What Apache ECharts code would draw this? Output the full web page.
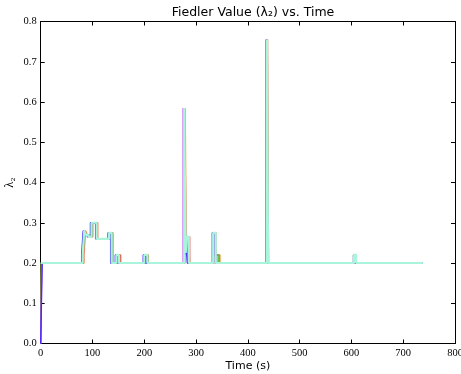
<!DOCTYPE html>
<html>
<head>
<meta charset="utf-8">
<script src="https://cdn.jsdelivr.net/npm/echarts@6/dist/echarts.min.js"></script>
<style>html,body{margin:0;padding:0;background:#fff}#c{width:461px;height:374px}</style>
</head>
<body>
<div id="c"></div>
<script>
const xTicks = [0, 100, 200, 300, 400, 500, 600, 700, 800];
const yTicks = [0.0, 0.1, 0.2, 0.3, 0.4, 0.5, 0.6, 0.7, 0.8];

const blueT   = [0, 3, 79, 82, 85, 90, 96, 106, 130, 135, 144, 149, 198, 203, 276, 278, 280, 283, 332, 337, 436, 438, 604, 607, 738];
const blueV   = [0, 0.2, 0.22, 0.28, 0.27, 0.265, 0.3, 0.26, 0.275, 0.2, 0.22, 0.2, 0.22, 0.2, 0.585, 0.22, 0.265, 0.2, 0.275, 0.2, 0.755, 0.2, 0.22, 0.2, 0.2];

const purpleT = [0, 2, 80, 83, 86, 91, 97, 107, 131, 136, 145, 150, 199, 205, 275, 278, 281, 284, 331, 335, 340, 435, 437, 605, 609, 738];
const purpleV = [0, 0.2, 0.22, 0.28, 0.27, 0.265, 0.3, 0.26, 0.275, 0.2, 0.22, 0.2, 0.22, 0.2, 0.585, 0.225, 0.265, 0.2, 0.275, 0.22, 0.2, 0.755, 0.2, 0.22, 0.2, 0.2];

const greenT  = [0, 1, 82, 85, 88, 93, 99, 109, 133, 138, 147, 152, 201, 207, 277, 280, 283, 286, 333, 337, 343, 437, 439, 604, 608, 738];
const greenV  = [0, 0.2, 0.22, 0.28, 0.27, 0.265, 0.3, 0.26, 0.275, 0.2, 0.22, 0.2, 0.22, 0.2, 0.585, 0.225, 0.265, 0.2, 0.275, 0.22, 0.2, 0.755, 0.2, 0.22, 0.2, 0.2];

const redT    = [0, 1, 83, 86, 89, 94, 100, 110, 134, 139, 148, 154, 202, 207, 278, 281, 284, 288, 334, 338, 345, 438, 440, 606, 609, 738];
const redV    = [0, 0.2, 0.22, 0.28, 0.27, 0.265, 0.3, 0.26, 0.275, 0.2, 0.22, 0.2, 0.22, 0.2, 0.585, 0.225, 0.265, 0.2, 0.275, 0.22, 0.2, 0.755, 0.2, 0.22, 0.2, 0.2];

const orangeT = [0, 2, 84, 87, 90, 95, 101, 110, 135, 140, 149, 155, 203, 208, 279, 282, 285, 288, 335, 339, 347, 438, 440, 607, 610, 738];
const orangeV = [0, 0.2, 0.22, 0.28, 0.27, 0.265, 0.3, 0.26, 0.275, 0.2, 0.22, 0.2, 0.22, 0.2, 0.585, 0.225, 0.265, 0.2, 0.275, 0.22, 0.2, 0.755, 0.2, 0.22, 0.2, 0.2];

const aquaT   = [0, 81, 84, 87, 92, 98, 108, 132, 137, 146, 151, 200, 206, 277, 280, 282, 286, 333, 338, 437, 439, 605, 609, 738];
const aquaV   = [0.2, 0.22, 0.28, 0.27, 0.265, 0.3, 0.26, 0.275, 0.2, 0.22, 0.2, 0.22, 0.2, 0.585, 0.225, 0.265, 0.2, 0.275, 0.2, 0.755, 0.2, 0.22, 0.2, 0.2];

const seriesDefs = [
  {name: 'run5', t: orangeT, v: orangeV, color: '#f0b878', w: 1.3, o: 0.9},
  {name: 'run4', t: redT,    v: redV,    color: '#e85a5a', w: 1.3, o: 0.85},
  {name: 'run3', t: greenT,  v: greenV,  color: '#5cbf3c', w: 1.3, o: 0.9},
  {name: 'run2', t: purpleT, v: purpleV, color: '#c04ef0', w: 1.3, o: 1},
  {name: 'run1', t: blueT,   v: blueV,   color: '#4426ff', w: 1.3, o: 1},
  {name: 'run6', t: aquaT,   v: aquaV,   color: '#a8f5dc', w: 2.2, o: 1}
];

const serifFont = '"Liberation Serif", "DejaVu Serif", serif';
const sansFont = '"DejaVu Sans", sans-serif';
const L = 40.7, R = 6, T = 21.5, B = 30.5;

const chart = echarts.init(document.getElementById('c'), null, {renderer: 'canvas'});
chart.setOption({
  animation: false,
  backgroundColor: '#fff',
  title: {
    text: 'Fiedler Value (λ₂) vs. Time',
    left: 248, top: 1, textAlign: 'center',
    textStyle: {fontFamily: sansFont, fontSize: 12.5, fontWeight: 'normal', color: '#000'}
  },
  grid: {left: L, right: R, top: T, bottom: B, containLabel: false, outerBoundsMode: 'none'},
  xAxis: [
    {
      type: 'value', min: 0, max: 800, interval: 100, position: 'bottom',
      name: 'Time (s)', nameLocation: 'middle', nameGap: 17, nameMoveOverlap: false,
      nameTextStyle: {fontFamily: sansFont, fontSize: 11, color: '#000'},
      axisLine: {show: true, onZero: false, lineStyle: {color: '#000', width: 1}},
      axisTick: {show: true, inside: true, length: 4, lineStyle: {color: '#000'}},
      axisLabel: {margin: 4, fontFamily: serifFont, fontSize: 10.5, color: '#000',
        formatter: v => xTicks.includes(v) ? String(v) : ''},
      splitLine: {show: false}
    },
    {
      type: 'value', min: 0, max: 800, interval: 100, position: 'top',
      axisLine: {show: true, onZero: false, lineStyle: {color: '#000', width: 1}},
      axisTick: {show: true, inside: true, length: 4, lineStyle: {color: '#000'}},
      axisLabel: {show: false}, splitLine: {show: false}
    }
  ],
  yAxis: [
    {
      type: 'value', min: 0, max: 0.8, interval: 0.1, position: 'left',
      name: 'λ₂', nameLocation: 'middle', nameGap: 24, nameRotate: 90, nameMoveOverlap: false,
      nameTextStyle: {fontFamily: serifFont, fontSize: 12.5, color: '#000'},
      axisLine: {show: true, onZero: false, lineStyle: {color: '#000', width: 1}},
      axisTick: {show: true, inside: true, length: 4, lineStyle: {color: '#000'}},
      axisLabel: {margin: 4, fontFamily: serifFont, fontSize: 10.5, color: '#000',
        formatter: v => yTicks.some(t => Math.abs(t - v) < 1e-9) ? v.toFixed(1) : ''},
      splitLine: {show: false}
    },
    {
      type: 'value', min: 0, max: 0.8, interval: 0.1, position: 'right',
      axisLine: {show: true, onZero: false, lineStyle: {color: '#000', width: 1}},
      axisTick: {show: true, inside: true, length: 4, lineStyle: {color: '#000'}},
      axisLabel: {show: false}, splitLine: {show: false}
    }
  ],
  series: seriesDefs.map((s, k) => ({
    name: s.name, type: 'line', step: 'end', showSymbol: false, symbol: 'none',
    xAxisIndex: 0, yAxisIndex: 0, z: 2 + k,
    data: s.t.map((t, i) => [t, s.v[i]]),
    lineStyle: {color: s.color, width: s.w, opacity: s.o},
    itemStyle: {color: s.color},
    clip: true
  }))
});
</script>
</body>
</html>
